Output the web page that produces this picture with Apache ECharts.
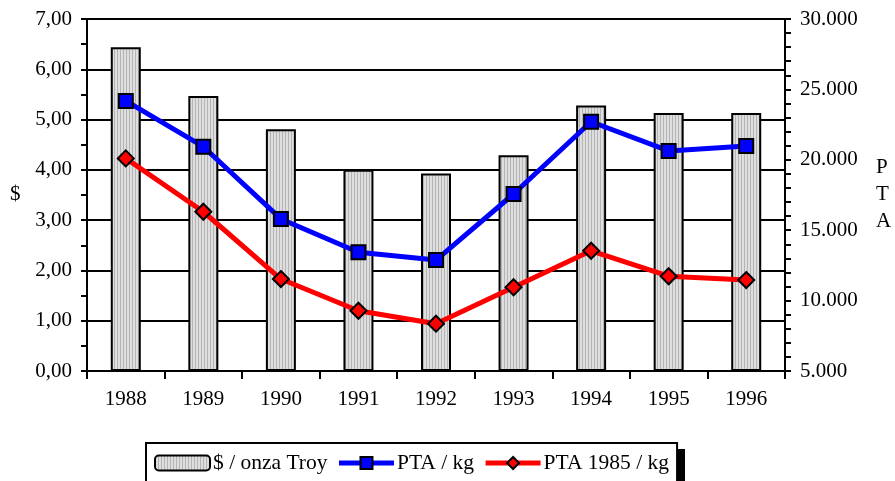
<!DOCTYPE html>
<html>
<head>
<meta charset="utf-8">
<script src="https://cdn.jsdelivr.net/npm/echarts@6/dist/echarts.min.js"></script>
<style>
html,body{margin:0;padding:0;background:#fff;}
#chart{width:895px;height:481px;}
</style>
</head>
<body>
<div id="chart"></div>
<script>
// ---- data ----
var years = ['1988','1989','1990','1991','1992','1993','1994','1995','1996'];
var dollarsPerTroyOunce = [6.44, 5.47, 4.81, 4.00, 3.93, 4.29, 5.28, 5.13, 5.13];
var ptaPerKg = [24180, 20930, 15800, 13430, 12880, 17570, 22700, 20630, 20980];
var pta1985PerKg = [20100, 16310, 11530, 9280, 8360, 10950, 13540, 11730, 11460];
var seriesNames = ['$ / onza Troy', 'PTA / kg', 'PTA 1985 / kg'];

// ---- hatch pattern for bars ----
var pc = document.createElement('canvas');
pc.width = 3; pc.height = 6;
var pctx = pc.getContext('2d');
pctx.fillStyle = '#dedede';
pctx.fillRect(0, 0, 3, 6);
pctx.fillStyle = '#b4b4b4';
pctx.fillRect(0, 0, 1, 6);
var hatch = {image: pc, repeat: 'repeat'};

var FONT = 'Liberation Serif';
var chart = echarts.init(document.getElementById('chart'), null, {renderer: 'canvas'});
chart.setOption({
  animation: false,
  backgroundColor: '#fff',
  textStyle: {fontFamily: FONT, color: '#000'},
  grid: {left: 87, right: 110, top: 19, bottom: 110, containLabel: false},
  xAxis: {
    type: 'category',
    data: years,
    boundaryGap: true,
    axisLine: {show: true, lineStyle: {color: '#000', width: 2}},
    axisTick: {show: true, length: 8, lineStyle: {color: '#000', width: 2}},
    axisLabel: {fontFamily: FONT, fontSize: 21, color: '#000', margin: 18},
    splitLine: {show: false}
  },
  yAxis: [{
    type: 'value',
    min: 0, max: 7, interval: 1,
    position: 'left',
    axisLine: {show: true, lineStyle: {color: '#000', width: 2}},
    axisTick: {show: true, length: 6, lineStyle: {color: '#000', width: 2}},
    minorTick: {show: true, splitNumber: 2, length: 6, lineStyle: {color: '#000', width: 2}},
    axisLabel: {fontFamily: FONT, fontSize: 21, color: '#000', margin: 15,
      formatter: function (v) { return v.toFixed(2).replace('.', ','); }},
    splitLine: {show: true, lineStyle: {color: '#000', width: 2}}
  }, {
    type: 'value',
    min: 5000, max: 30000, interval: 5000,
    position: 'right',
    axisLine: {show: true, lineStyle: {color: '#000', width: 2}},
    axisTick: {show: true, length: 6, lineStyle: {color: '#000', width: 2}},
    minorTick: {show: true, splitNumber: 5, length: 6, lineStyle: {color: '#000', width: 2}},
    axisLabel: {fontFamily: FONT, fontSize: 21, color: '#000', margin: 15,
      formatter: function (v) { return String(v).replace(/\B(?=(\d{3})+(?!\d))/g, '.'); }},
    splitLine: {show: false}
  }],
  legend: {
    left: 146, top: 443,
    orient: 'horizontal',
    padding: [9, 8, 12, 8],
    itemGap: 9,
    itemWidth: 55, itemHeight: 15,
    backgroundColor: '#fff',
    borderColor: '#000', borderWidth: 2,
    z: 10,
    textStyle: {fontFamily: FONT, fontSize: 21.5, color: '#000', padding: [1, 0, 0, -2]},
    data: [
      {name: seriesNames[0], itemStyle: {color: hatch, borderColor: '#000', borderWidth: 2}},
      {name: seriesNames[1], lineStyle: {width: 5, color: '#0000ff'}, itemStyle: {borderColor: '#000', borderWidth: 2}},
      {name: seriesNames[2], lineStyle: {width: 5, color: '#ff0000'}, itemStyle: {borderColor: '#000', borderWidth: 2}}
    ]
  },
  series: [{
    name: seriesNames[0],
    type: 'bar',
    yAxisIndex: 0,
    data: dollarsPerTroyOunce,
    barWidth: 30,
    z: 2,
    itemStyle: {color: hatch, borderColor: '#000', borderWidth: 2}
  }, {
    name: seriesNames[1],
    type: 'line',
    yAxisIndex: 1,
    data: ptaPerKg,
    symbol: 'rect',
    symbolSize: 14,
    z: 4,
    lineStyle: {color: '#0000ff', width: 5},
    itemStyle: {color: '#0000ff', borderColor: '#000', borderWidth: 2}
  }, {
    name: seriesNames[2],
    type: 'line',
    yAxisIndex: 1,
    data: pta1985PerKg,
    symbol: 'diamond',
    symbolSize: [16, 16],
    z: 3,
    lineStyle: {color: '#ff0000', width: 5},
    itemStyle: {color: '#ff0000', borderColor: '#000', borderWidth: 2}
  }],
  graphic: [{
    type: 'rect', z: 1,
    shape: {x: 152, y: 449, width: 533, height: 60},
    style: {fill: '#000'}
  }, {
    type: 'text', left: 10, top: 184,
    style: {text: '$', font: '21px "Liberation Serif"', fill: '#000'}
  }, {
    type: 'text', left: 876, top: 154,
    style: {text: 'P\nT\nA', font: '21px "Liberation Serif"', fill: '#000', lineHeight: 27, align: 'center'}
  }]
});
</script>
</body>
</html>
